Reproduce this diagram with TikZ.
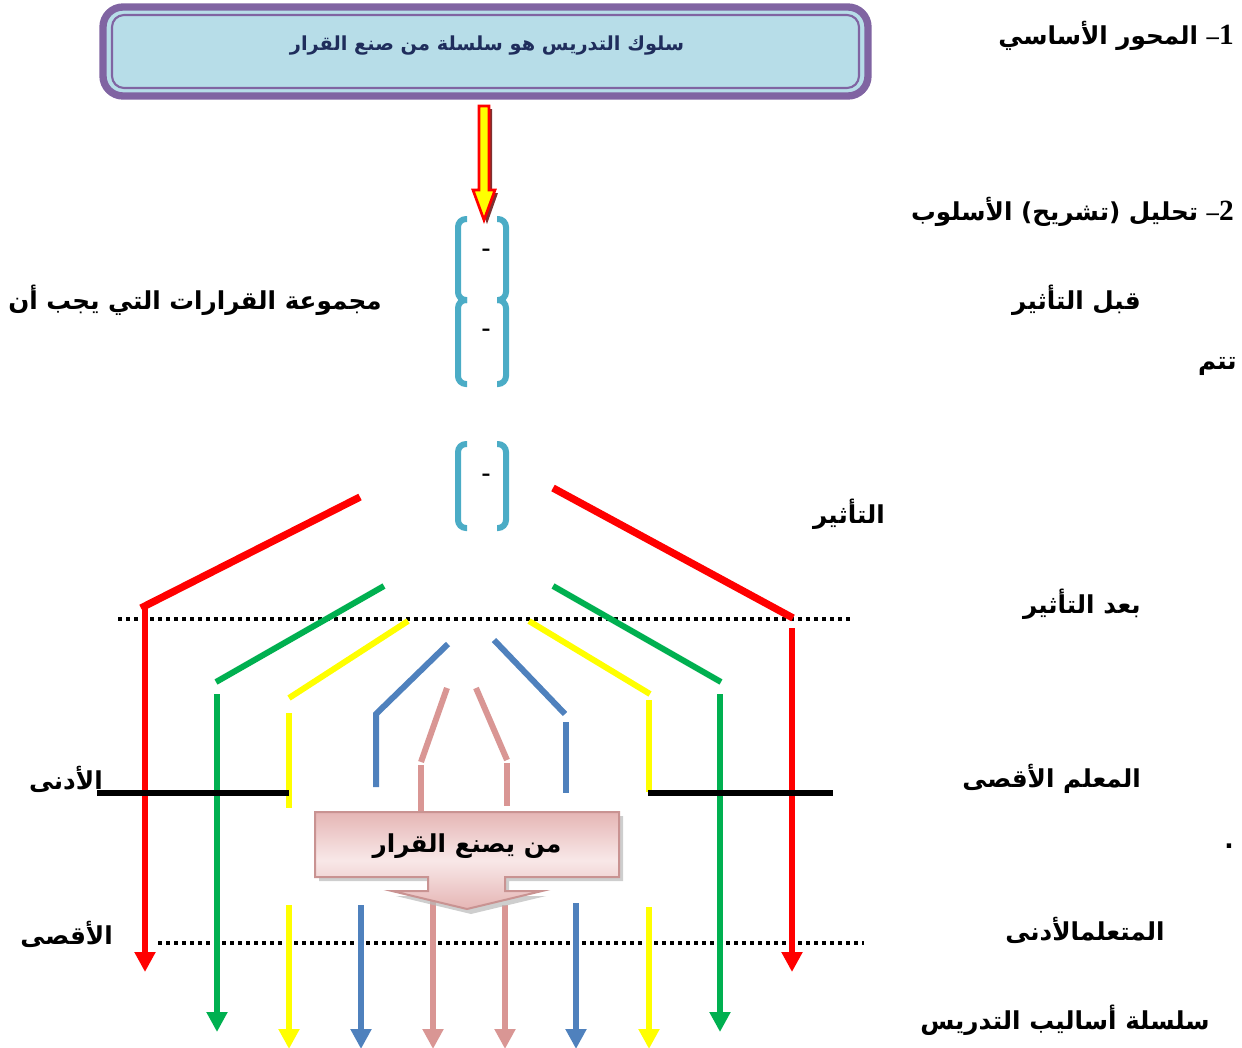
\documentclass[tikz,border=0pt]{standalone}
\usepackage{fontspec}
\usetikzlibrary{arrows.meta}
\TeXXeTstate=1
\newfontfamily\arfont[Script=Arabic]{DejaVu Sans}
\newfontfamily\serfont{Liberation Serif}
\newcommand{\AR}[1]{\beginR #1\endR}
\definecolor{cred}{HTML}{FF0000}
\definecolor{cgreen}{HTML}{00B050}
\definecolor{cyellow}{HTML}{FFFF00}
\definecolor{cblue}{HTML}{4F81BD}
\definecolor{cpink}{HTML}{D99694}
\definecolor{cteal}{HTML}{4BACC6}
\definecolor{cpurple}{HTML}{8064A2}
\definecolor{cboxblue}{HTML}{B7DDE8}
\definecolor{cnavy}{HTML}{1F2D5C}
\definecolor{cshadow}{HTML}{7F3030}
\definecolor{cpinkL}{HTML}{F8E8E8}
\definecolor{cpinkD}{HTML}{DFA3A2}
\begin{document}
\begin{tikzpicture}[x=0.75pt,y=-0.75pt,
  lbl/.style={inner sep=0pt, font=\arfont\bfseries\fontsize{18.5}{22}\selectfont},
  ttl/.style={inner sep=0pt, text=cnavy, font=\arfont\bfseries\fontsize{14.5}{17}\selectfont},
  dashlbl/.style={inner sep=0pt, font=\serfont\bfseries\fontsize{20}{22}\selectfont},
  seg/.style={line width=4.5pt},
  diag/.style={line width=4.5pt},
  arr/.style={line width=4.5pt, -{Triangle[width=15pt,length=15pt]}},
  brk/.style={cteal, line width=4.5pt, rounded corners=6pt},
  dotline/.style={line width=2.6pt, dash pattern=on 3pt off 3pt},
  bar/.style={line width=4pt, black}
]
\useasboundingbox (0,0) rectangle (1242,1047);

% ---- title box ----
\draw[fill=cboxblue, draw=cpurple, line width=5.5pt, rounded corners=15pt] (103,7) rectangle (868,96);
\draw[cpurple, line width=1.6pt, rounded corners=9pt] (112,15) rectangle (859,88);
\node[ttl] (title) at (487,46) {\AR{سلوك التدريس هو سلسلة من صنع القرار}};

% ---- yellow block arrow ----
\fill[cshadow] (482,109) -- (492,109) -- (492,193) -- (498,193) -- (487,224) -- (476,193) -- (482,193) -- cycle;
\draw[fill=cyellow, draw=cred, line width=2pt] (479,106) -- (489,106) -- (489,190) -- (495,190) -- (484,220) -- (473,190) -- (479,190) -- cycle;

% ---- brackets ----
\draw[brk] (467,219) -- (458,219) -- (458,300) -- (467,300);
\draw[brk] (467,300) -- (458,300) -- (458,384) -- (467,384);
\draw[brk] (497,219) -- (506,219) -- (506,300) -- (497,300);
\draw[brk] (497,300) -- (506,300) -- (506,384) -- (497,384);
\draw[brk] (467,444) -- (458,444) -- (458,528) -- (467,528);
\draw[brk] (497,444) -- (506,444) -- (506,528) -- (497,528);
\node[dashlbl] (d1) at (486,253) {-};
\node[dashlbl] (d2) at (486,333) {-};
\node[dashlbl] (d3) at (486,478) {-};

% ---- dotted lines ----
\draw[dotline] (118,619) -- (852,619);
\draw[dotline] (158,943) -- (864,943);

% ---- red ----
\draw[cred, line width=5.5pt] (360,497) -- (141,608);
\draw[cred, arr] (145,606) -- (145,972);
\draw[cred, line width=5.5pt] (553,488) -- (793,618);
\draw[cred, arr] (792,628) -- (792,972);
% ---- green ----
\draw[cgreen, diag] (384,586) -- (216,682);
\draw[cgreen, arr] (217,694) -- (217,1032);
\draw[cgreen, diag] (553,586) -- (721,682);
\draw[cgreen, arr] (720,694) -- (720,1032);
% ---- yellow ----
\draw[cyellow, diag] (408,621) -- (289,698);
\draw[cyellow, seg] (289,713) -- (289,808);
\draw[cyellow, arr] (289,905) -- (289,1049);
\draw[cyellow, diag] (529,621) -- (650,694);
\draw[cyellow, seg] (649,700) -- (649,792);
\draw[cyellow, arr] (649,907) -- (649,1049);
% ---- blue ----
\draw[cblue, diag] (448,644) -- (376,714) -- (376,787);
\draw[cblue, arr] (361,905) -- (361,1049);
\draw[cblue, diag] (494,640) -- (565,714);
\draw[cblue, seg] (566,722) -- (566,793);
\draw[cblue, arr] (576,903) -- (576,1049);

% ---- black bars ----
\draw[bar] (97,793) -- (289,793);
\draw[bar] (648,793) -- (833,793);

% ---- pink ----
\draw[cpink, diag] (447,688) -- (421,762);
\draw[cpink, seg] (421,765) -- (421,812);
\draw[cpink, diag] (476,688) -- (507,760);
\draw[cpink, seg] (507,763) -- (507,806);
\draw[cpink, arr] (433,895) -- (433,1049);
\draw[cpink, arr] (505,905) -- (505,1049);

% ---- callout ----
\fill[gray!55, opacity=0.7] (319,816) -- (623,816) -- (623,881) -- (509,881) -- (509,896) -- (546,896) -- (471,914) -- (396,896) -- (432,896) -- (432,881) -- (319,881) -- cycle;
\draw[draw=cpinkD!90!black, line width=1.5pt, top color=cpinkD!80, bottom color=cpinkD!80, middle color=cpinkL]
  (315,812) -- (619,812) -- (619,877) -- (505,877) -- (505,891) -- (542,891) -- (467,909) -- (392,891) -- (428,891) -- (428,877) -- (315,877) -- cycle;
\node[lbl] (who) at (467,846) {\AR{من يصنع القرار}};

% ---- labels ----
\node[lbl, anchor=east] (l1) at (1234,36) {\AR{{\serfont\fontsize{22}{24}\selectfont 1}\kern0pt{\serfont –} المحور الأساسي}};
\node[lbl, anchor=east] (l2) at (1234,212) {\AR{{\serfont\fontsize{22}{24}\selectfont 2}\kern0pt{\serfont –} تحليل (تشريح) الأسلوب}};
\node[lbl, anchor=east] (qabl) at (1141,300) {\AR{قبل التأثير}};
\node[lbl, anchor=east] (tatim) at (1237,366) {\AR{تتم}};
\node[lbl, anchor=west] (majmu) at (8,300) {\AR{مجموعة القرارات التي يجب أن}};
\node[lbl] (taathir) at (849,514) {\AR{التأثير}};
\node[lbl, anchor=east] (baad) at (1141,604) {\AR{بعد التأثير}};
\node[lbl, anchor=east] (muallim) at (1141,779) {\AR{المعلم الأقصى}};
\node[lbl] (dot) at (1229,846) {.};
\node[lbl, anchor=east] (mutaallim) at (1165,930) {\AR{المتعلمالأدنى}};
\node[lbl, anchor=east] (silsila) at (1210,1020) {\AR{سلسلة أساليب التدريس}};
\node[lbl, anchor=east] (adna) at (103,779) {\AR{الأدنى}};
\node[lbl, anchor=east] (aqsa) at (113,934) {\AR{الأقصى}};
\end{tikzpicture}
\end{document}
